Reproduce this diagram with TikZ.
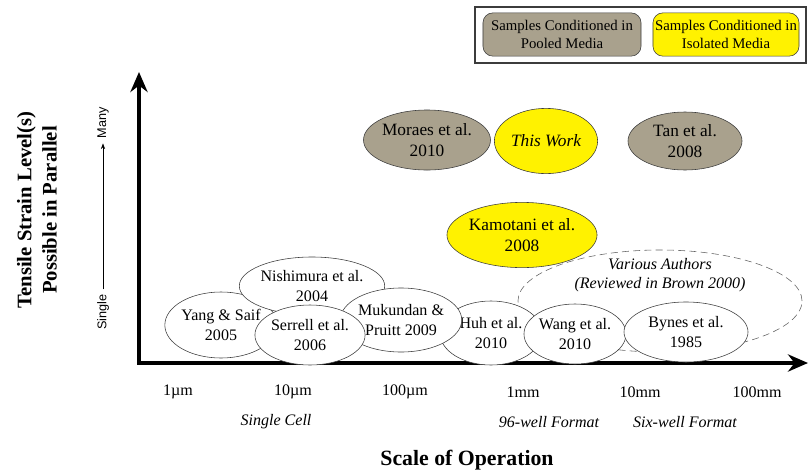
\documentclass[tikz,border=0pt]{standalone}
\usepackage{fontspec}
\setmainfont{Liberation Serif}
\setsansfont{Liberation Sans}
\usepackage{xcolor}
\usepackage{tikz}
\usetikzlibrary{
  arrows.meta,
  positioning,
  shapes.geometric,
}

\definecolor{pooled}{RGB}{169,161,141}
\definecolor{isolated}{RGB}{255,242,0}
\definecolor{edge}{RGB}{60,60,60}

\begin{document}
\begin{tikzpicture}[
  x=0.025cm, y=-0.025cm,
  every node/.style={align=center},
  study/.style={draw=edge, ellipse, inner sep=0pt, fill=white,
                font=\fontsize{11.4}{14.2}\selectfont},
  pooledstudy/.style={study, fill=pooled, font=\fontsize{12.3}{14.5}\selectfont},
  isolatedstudy/.style={study, fill=isolated, font=\fontsize{12.3}{14.5}\selectfont},
  keybox/.style={draw=edge, rounded corners=7pt, inner sep=0pt,
                 minimum height=1.08cm, font=\fontsize{10.5}{13}\selectfont},
  tick/.style={font=\fontsize{11.4}{14}\selectfont},
  format/.style={font=\fontsize{11.4}{14}\selectfont\itshape},
  axis/.style={line width=2.6pt,
               {Stealth[length=0.5cm, width=0.43cm]}-{Stealth[length=0.5cm, width=0.43cm]}},
]
\useasboundingbox (0,0) rectangle (810,475);

% key
\node[keybox, fill=pooled, minimum width=3.95cm] (pooledkey) at (562,34.5)
  {Samples Conditioned in\\Pooled Media};
\node[keybox, fill=isolated, minimum width=3.65cm] (isolatedkey) at (726,34.5)
  {Samples Conditioned in\\Isolated Media};
\draw[edge, line width=1.2pt] (475,7) rectangle (806,63);

% axes
\coordinate (origin) at (139,363);
\coordinate (ytip) at (139,72);
\coordinate (xtip) at (808,363);
\draw[axis] (ytip) -- (origin) -- (xtip);

\node[font=\fontsize{14.7}{18}\selectfont\bfseries, rotate=90] (ylabel) at (37,210)
  {Tensile Strain Level(s)\\Possible in Parallel};
\node[font=\fontsize{9}{11}\sffamily, rotate=90] (single) at (103,312) {Single};
\node[font=\fontsize{9}{11}\sffamily, rotate=90] (many) at (103,123) {Many};
\draw[-{Stealth[length=4pt, width=3pt]}, thin] (single) -- (many);

% scale ticks
\node[tick] (t1) at (178,392) {1µm};
\node[tick] (t2) at (293,392) {10µm};
\node[tick] (t3) at (405,392) {100µm};
\node[tick] (t4) at (523,392) {1mm};
\node[tick] (t5) at (640,392) {10mm};
\node[tick] (t6) at (757,392) {100mm};

\node[format] (cell) at (276,422) {Single Cell};
\node[format] (wells96) at (549,422) {96-well Format};
\node[format] (wells6) at (685,422) {Six-well Format};
\node[font=\fontsize{15.5}{18}\selectfont\bfseries] (xlabel) at (467,460) {Scale of Operation};

% studies
\node[pooledstudy, minimum width=2.8cm, minimum height=1.5cm] (moraes) at (427,140)
  {Moraes et al.\\2010};
\node[isolatedstudy, minimum width=2.58cm, minimum height=1.63cm] (thiswork) at (546,141)
  {\itshape This Work};
\node[pooledstudy, minimum width=2.85cm, minimum height=1.45cm] (tan) at (685,141)
  {Tan et al.\\2008};
\node[isolatedstudy, minimum width=3.25cm, minimum height=1.63cm] (kamotani) at (522,235)
  {Kamotani et al.\\2008};

\node[study, draw=edge!80, dash pattern=on 5pt off 3pt, minimum width=7.1cm, minimum height=2.55cm] (brown) at (660,301) {};
\node[font=\fontsize{11.4}{14}\selectfont\itshape] (various) at (660,275)
  {Various Authors\\(Reviewed in Brown 2000)};

\node[study, minimum width=2.75cm, minimum height=1.65cm] (yang) at (221,325)
  {Yang \& Saif\\2005};
\node[study, minimum width=3.0cm, minimum height=1.45cm] (nishimura) at (312,286)
  {Nishimura et al.\\2004};
\node[study, minimum width=2.55cm, minimum height=1.6cm] (huh) at (491,333)
  {Huh et al.\\2010};
\node[study, minimum width=2.55cm, minimum height=1.6cm] (mukundan) at (401,320)
  {Mukundan \&\\Pruitt 2009};
\node[study, minimum width=2.3cm, minimum height=1.5cm] (serrell) at (310,335)
  {Serrell et al.\\2006};
\node[study, minimum width=2.5cm, minimum height=1.5cm] (wang) at (575,334)
  {Wang et al.\\2010};
\node[study, minimum width=3.1cm, minimum height=1.5cm] (bynes) at (686,332)
  {Bynes et al.\\1985};

\end{tikzpicture}
\end{document}
